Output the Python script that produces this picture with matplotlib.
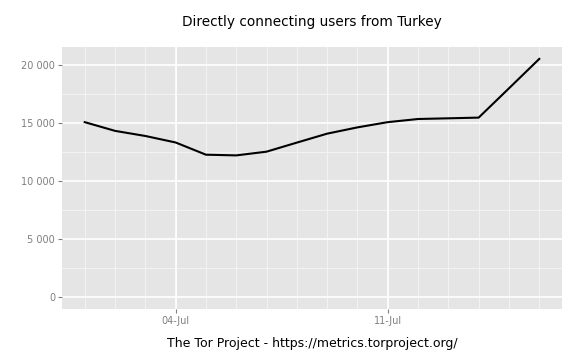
import numpy as np
import matplotlib
matplotlib.use("Agg")
import matplotlib.pyplot as plt
import matplotlib.dates as md
from matplotlib.ticker import FuncFormatter

# daily users, 01-Jul .. 16-Jul
dates = np.arange("2013-07-01", "2013-07-17", dtype="datetime64[D]")
users = [15050, 14300, 13860, 13300, 12250, 12190, 12510, 13290,
         14060, 14600, 15050, 15320, 15380, 15440, 17960, 20490]
y_ticks = [0, 5000, 10000, 15000, 20000]
x_ticks = np.array(["2013-07-04", "2013-07-11"], dtype="datetime64[D]")

title = "Directly connecting users from Turkey"
caption = "The Tor Project - https://metrics.torproject.org/"

fig = plt.figure(figsize=(5.76, 3.6), dpi=100)
ax = fig.add_axes([62 / 576, 1 - 309 / 360, 500 / 576, 262 / 360])
ax.set_facecolor("#E5E5E5")

xd = md.date2num(dates)
span = xd[-1] - xd[0]
ax.set_xlim(xd[0] - 0.05 * span, xd[-1] + 0.05 * span)
ymax = max(users)
ax.set_ylim(-0.05 * ymax, ymax * 1.05)

# grid: minor daily / half-step, major on ticks
for d in xd:
    ax.axvline(d, color="#F2F2F2", lw=0.8, zorder=0)
for v in np.arange(2500, 22500, 5000):
    ax.axhline(v, color="#F2F2F2", lw=0.8, zorder=0)
for v in y_ticks:
    ax.axhline(v, color="white", lw=1.2, zorder=1)
for d in md.date2num(x_ticks):
    ax.axvline(d, color="white", lw=1.2, zorder=1)

ax.plot(xd, users, color="black", lw=1.5, zorder=3)

ax.set_yticks(y_ticks)
ax.yaxis.set_major_formatter(FuncFormatter(lambda v, p: f"{int(v):,}".replace(",", " ")))
ax.set_xticks(md.date2num(x_ticks))
ax.xaxis.set_major_formatter(md.DateFormatter("%d-%b"))

for s in ax.spines.values():
    s.set_visible(False)
ax.tick_params(colors="#7F7F7F", labelsize=7, length=3, width=0.8, pad=2)

fig.text((62 + 562) / 2 / 576, 1 - 22 / 360, title, ha="center", va="center",
         fontsize=9.8, color="black")
fig.text((62 + 562) / 2 / 576, 1 - 344 / 360, caption, ha="center", va="center",
         fontsize=9, color="black")

fig.savefig("out.png", dpi=100)
